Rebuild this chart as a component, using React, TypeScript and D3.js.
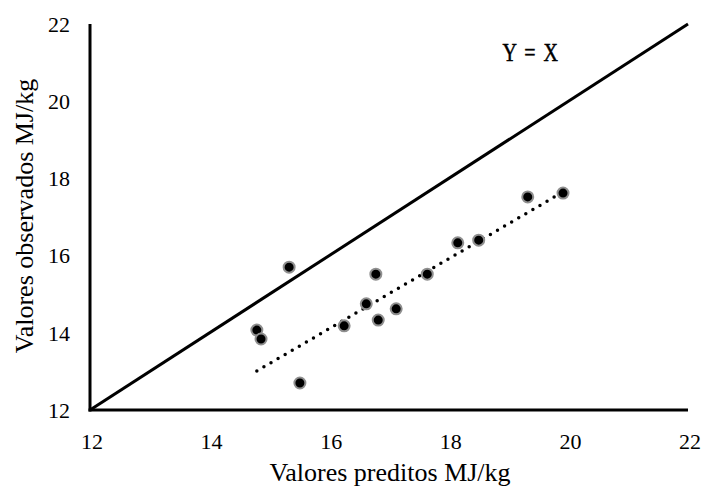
import { useEffect, useRef } from 'react';
import * as d3 from 'd3';

// predicted (x) and observed (y) values, MJ/kg
const predicted = [14.79, 14.86, 15.33, 15.51, 16.25, 16.62, 16.78, 16.82, 17.12, 17.64, 18.15, 18.50, 19.32, 19.91];
const observed = [14.07, 13.84, 15.70, 12.70, 14.18, 14.75, 15.52, 14.33, 14.62, 15.52, 16.33, 16.40, 17.52, 17.62];

// dotted trend line ends
const trendX = [14.79, 19.91];
const trendY = [13.01, 17.65];

const ticks = ["12", "14", "16", "18", "20", "22"];
const domain = [12, 22];

export default function App() {
    const svgRef = useRef(null);

    useEffect(() => {
        const width = 705;
        const height = 491;
        const margin = { top: 24, right: 17, bottom: 81, left: 90 };

        const svg = d3.select(svgRef.current);
        svg.selectAll("*").remove();
        svg.attr("width", width).attr("height", height)
            .attr("font-family", "Liberation Serif, serif");

        const x = d3.scaleLinear().domain(domain).range([margin.left, width - margin.right]);
        const y = d3.scaleLinear().domain(domain).range([height - margin.bottom, margin.top]);

        // Y = X line
        svg.append("line")
            .attr("x1", x(domain[0])).attr("y1", y(domain[0]))
            .attr("x2", x(domain[1])).attr("y2", y(domain[1]))
            .attr("stroke", "#000")
            .attr("stroke-width", 3);

        // axes (no tick marks)
        svg.append("line")
            .attr("x1", x(12)).attr("x2", x(12))
            .attr("y1", y(22)).attr("y2", y(12) + 1.5)
            .attr("stroke", "#000").attr("stroke-width", 3);
        svg.append("line")
            .attr("x1", x(12) - 1.5).attr("x2", x(22))
            .attr("y1", y(12)).attr("y2", y(12))
            .attr("stroke", "#000").attr("stroke-width", 3);

        // tick labels
        svg.append("g").selectAll("text")
            .data(ticks)
            .enter()
            .append("text")
            .attr("x", 70)
            .attr("y", d => y(+d))
            .attr("dy", "0.35em")
            .attr("text-anchor", "end")
            .attr("font-family", "Liberation Serif, serif")
            .attr("font-size", 22)
            .text(d => d);

        svg.append("g").selectAll("text")
            .data(ticks)
            .enter()
            .append("text")
            .attr("x", d => x(+d) + 2)
            .attr("y", 449)
            .attr("text-anchor", "middle")
            .attr("font-family", "Liberation Serif, serif")
            .attr("font-size", 22)
            .text(d => d);

        // axis titles
        svg.append("text")
            .attr("x", 390)
            .attr("y", 481)
            .attr("text-anchor", "middle")
            .attr("font-size", 26)
            .text("Valores preditos MJ/kg");

        svg.append("text")
            .attr("transform", "translate(33,216) rotate(-90)")
            .attr("text-anchor", "middle")
            .attr("font-size", 26)
            .text("Valores observados MJ/kg");

        // Y = X annotation
        svg.append("text")
            .attr("transform", "translate(531,61) scale(1,1.25)")
            .attr("text-anchor", "middle")
            .attr("font-size", 20)
            .attr("letter-spacing", 1.5)
            .attr("stroke", "#000")
            .attr("stroke-width", 0.4)
            .text("Y = X");

        // trend line (dotted)
        const line = d3.line()
            .x(d => x(d[0]))
            .y(d => y(d[1]));
        svg.append("path")
            .datum(trendX.map((v, i) => [v, trendY[i]]))
            .attr("d", line)
            .attr("fill", "none")
            .attr("stroke", "#000")
            .attr("stroke-width", 3.5)
            .attr("stroke-linecap", "round")
            .attr("stroke-dasharray", "0 8.2");

        // points
        svg.append("g").selectAll("circle")
            .data(predicted.map((v, i) => [v, observed[i]]))
            .enter()
            .append("circle")
            .attr("cx", d => x(d[0]))
            .attr("cy", d => y(d[1]))
            .attr("r", 5.5)
            .attr("fill", "#000")
            .attr("stroke", "#8f8f8f")
            .attr("stroke-width", 2);
    }, []);

    return (
        <div style={{ position: 'absolute', left: 0, top: 0, width: 705, height: 491, background: '#fff' }}>
            <svg ref={svgRef} width={705} height={491} style={{ display: 'block' }}></svg>
        </div>
    );
}
